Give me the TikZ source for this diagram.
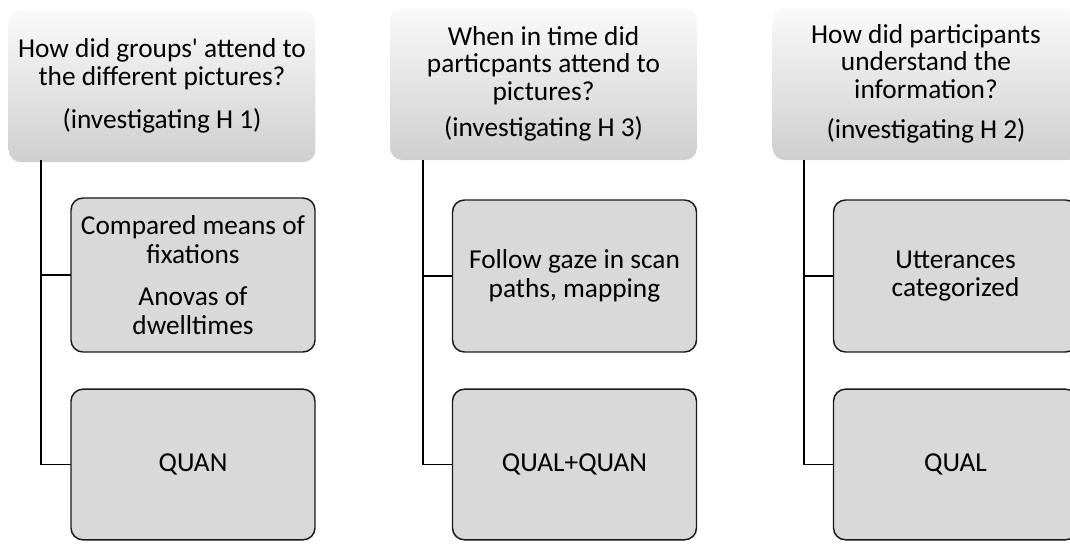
\documentclass[tikz,border=0pt]{standalone}
\usepackage{fontspec}
\setmainfont{Carlito}
\begin{document}
\begin{tikzpicture}[x=0.75pt,y=-0.75pt,
  hdr/.style={rounded corners=9pt, top color=white!98!black, bottom color=black!19,
    minimum width=230pt, minimum height=114pt, align=center, inner sep=2pt,
    font=\fontsize{20.5}{20.5}\selectfont},
  sub/.style={rounded corners=9pt, fill=black!15, draw=black!90, line width=1.1pt,
    minimum width=183pt, align=center, inner sep=2pt,
    font=\fontsize{20.5}{21.5}\selectfont},
  conn/.style={draw=black, line width=1.1pt}]
\useasboundingbox (0,0) rectangle (1070,543);
\clip (0,0) rectangle (1070,543);

% headers
\node[hdr] (h1) at (162,86) {How did groups\textquotesingle{} attend to\\the different pictures?\\[12pt](investigating H 1)};
\node[hdr] (h2) at (543.5,84) {When in time did\\particpants attend to\\pictures?\\[7pt](investigating H 3)};
\node[hdr] (h3) at (926,84) {How did participants\\understand the\\information?\\[10pt](investigating H 2)};

% tree line tops
\coordinate (t1) at (41,160);
\coordinate (t2) at (423,160);
\coordinate (t3) at (804,160);

% connectors
\draw[conn] (t1) |- (71,275) coordinate (e1a);
\draw[conn] (t1) |- (71,464.5) coordinate (e1b);
\draw[conn] (t2) |- (452,276) coordinate (e2a);
\draw[conn] (t2) |- (452,464.5) coordinate (e2b);
\draw[conn] (t3) |- (833,276) coordinate (e3a);
\draw[conn] (t3) |- (833,464.5) coordinate (e3b);

% child boxes
\node[sub, minimum height=115.5pt] (a1) at (193,275) {Compared means of\\fixations\\[10pt]Anovas of\\dwelltimes};
\node[sub, minimum height=113pt] (b1) at (193,464.5) {QUAN};
\node[sub, minimum height=114pt] (a2) at (574.5,276) {Follow gaze in scan\\paths, mapping};
\node[sub, minimum height=113pt] (b2) at (574.5,464.5) {QUAL+QUAN};
\node[sub, minimum height=114pt] (a3) at (955.5,276) {Utterances\\categorized};
\node[sub, minimum height=113pt] (b3) at (955.5,464.5) {QUAL};
\end{tikzpicture}
\end{document}
